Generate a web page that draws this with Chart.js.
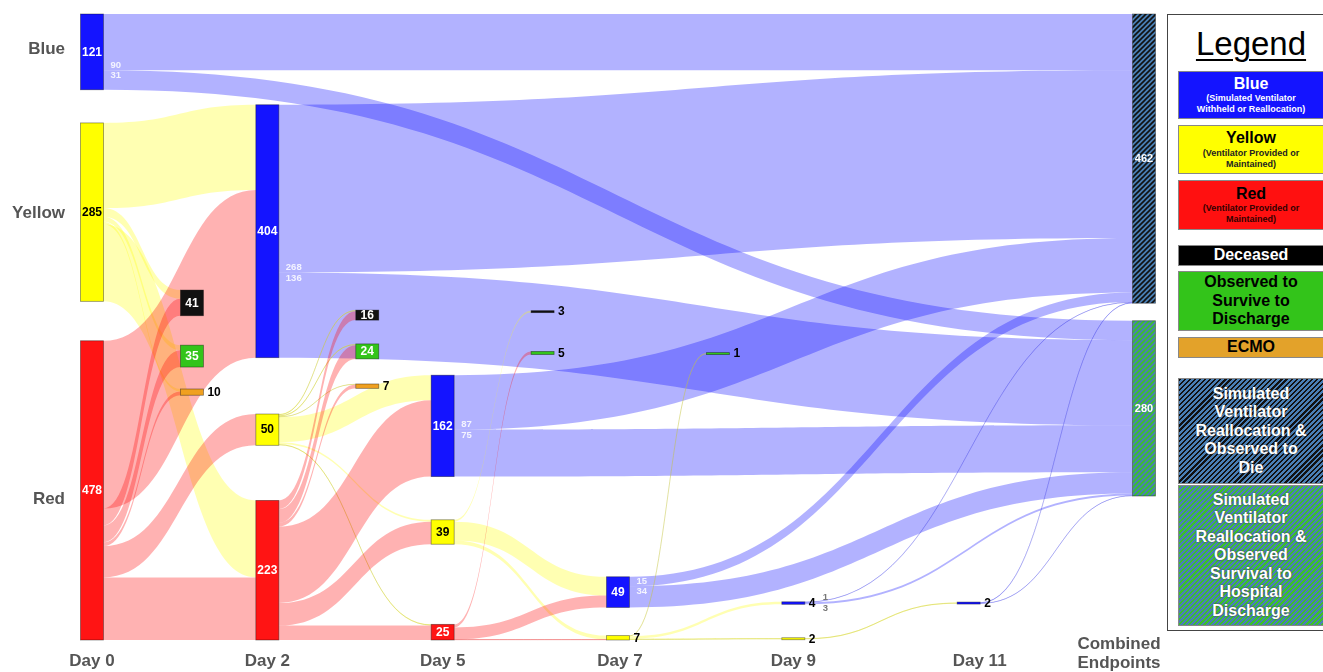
<!DOCTYPE html>
<html>
<head>
<meta charset="utf-8">
<title>Ventilator allocation flow</title>
<script src="https://cdn.jsdelivr.net/npm/chart.js@4.4.1/dist/chart.umd.min.js"></script>
<style>
  html, body { margin: 0; padding: 0; background: #fff; }
  #wrap { position: relative; width: 1323px; height: 672px; overflow: hidden; font-family: "Liberation Sans", Arial, sans-serif; }
  #wrap canvas { position: absolute; left: 0; top: 0; }
  #legend { position: absolute; left: 1167px; top: 14px; width: 175px; height: 617px; border: 1px solid #444; background: #fff; box-sizing: border-box; }
  #legend .title { position: absolute; left: 0; width: 166px; top: 10px; text-align: center; font-size: 33px; text-decoration: underline; text-decoration-thickness: 2px; text-underline-offset: 4px; color: #000; }
  #legend .item { position: absolute; left: 10px; width: 146px; box-sizing: border-box; border: 1px solid #888; display: flex; flex-direction: column; justify-content: center; align-items: center; text-align: center; font-weight: bold; font-size: 16px; line-height: 18.5px; }
  #legend .item small { font-size: 9px; line-height: 11px; display: block; }
  #legend .hatchDie { background: repeating-linear-gradient(135deg, #111 0 1.6px, #4a7fb5 1.6px 3.6px); color: #fff; text-shadow: 0 0 2px #333; }
  #legend .hatchLive { background: repeating-linear-gradient(135deg, #3cc12a 0 1.6px, #4a7fb5 1.6px 3.6px); color: #fff; text-shadow: 0 0 2px #333; }
</style>
</head>
<body>
<div id="wrap">
  <canvas id="flow" width="1323" height="672"></canvas>
  <div id="legend">
    <div class="title">Legend</div>
    <div class="item" style="top:56px;height:48px;background:#1414ff;color:#fff;">Blue<small>(Simulated Ventilator<br>Withheld or Reallocation)</small></div>
    <div class="item" style="top:110px;height:49px;background:#ffff00;color:#000;">Yellow<small style="color:#222">(Ventilator Provided or<br>Maintained)</small></div>
    <div class="item" style="top:165px;height:50px;background:#ff1010;color:#000;">Red<small style="color:#300">(Ventilator Provided or<br>Maintained)</small></div>
    <div class="item" style="top:230px;height:21px;background:#000;color:#fff;">Deceased</div>
    <div class="item" style="top:256px;height:60px;background:#33c41a;color:#000;">Observed to<br>Survive to<br>Discharge</div>
    <div class="item" style="top:322px;height:21px;background:#e3a22a;color:#000;">ECMO</div>
    <div class="item hatchDie" style="top:363px;height:106px;">Simulated<br>Ventilator<br>Reallocation &amp;<br>Observed to<br>Die</div>
    <div class="item hatchLive" style="top:470px;height:141px;">Simulated<br>Ventilator<br>Reallocation &amp;<br>Observed<br>Survival to<br>Hospital<br>Discharge</div>
  </div>
</div>
<script>
// ---- data ----
const dayLabels = ['Day 0', 'Day 2', 'Day 5', 'Day 7', 'Day 9', 'Day 11', ['Combined', 'Endpoints']];
const rowLabels = ['Blue', 'Yellow', 'Red'];
const rowNodes = ['b0', 'y0', 'r0'];

// nodes (kind = colour group, day = column index)
const nodeIds   = ['b0', 'y0', 'r0', 'd0', 's0', 'e0',
                   'b2', 'y2', 'r2', 'd2', 's2', 'e2',
                   'b5', 'y5', 'r5', 'd5', 's5',
                   'b7', 'y7', 's7',
                   'b9', 'y9',
                   'b11',
                   'endDie', 'endLive'];
const nodeKinds = ['blue', 'yellow', 'red', 'dead', 'alive', 'ecmo',
                   'blue', 'yellow', 'red', 'dead', 'alive', 'ecmo',
                   'blue', 'yellow', 'red', 'dead', 'alive',
                   'blue', 'yellow', 'alive',
                   'blue', 'yellow',
                   'blue',
                   'hatchDie', 'hatchLive'];
const nodeDay   = [0, 0, 0, 0, 0, 0,
                   1, 1, 1, 1, 1, 1,
                   2, 2, 2, 2, 2,
                   3, 3, 3,
                   4, 4,
                   5,
                   6, 6];

// flows
const linkFrom  = ['b0', 'b0',
                   'y0', 'y0', 'y0', 'y0', 'y0',
                   'r0', 'r0', 'r0', 'r0', 'r0', 'r0',
                   'b2', 'b2',
                   'y2', 'y2', 'y2', 'y2', 'y2', 'y2',
                   'r2', 'r2', 'r2', 'r2', 'r2', 'r2',
                   'b5', 'b5',
                   'y5', 'y5', 'y5',
                   'r5', 'r5', 'r5',
                   'b7', 'b7',
                   'y7', 'y7', 'y7',
                   'b9', 'b9',
                   'y9',
                   'b11', 'b11'];
const linkTo    = ['endDie', 'endLive',
                   'b2', 'd0', 's0', 'e0', 'r2',
                   'b2', 'd0', 's0', 'e0', 'y2', 'r2',
                   'endDie', 'endLive',
                   'd2', 's2', 'e2', 'b5', 'y5', 'r5',
                   'd2', 's2', 'e2', 'b5', 'y5', 'r5',
                   'endDie', 'endLive',
                   'd5', 'b7', 'y7',
                   's5', 'b7', 'y7',
                   'endDie', 'endLive',
                   's7', 'b9', 'y9',
                   'endDie', 'endLive',
                   'b11',
                   'endDie', 'endLive'];
const linkValue = [90, 31,
                   136, 14, 8, 4, 123,
                   268, 27, 27, 6, 50, 100,
                   268, 136,
                   2, 2, 1, 40, 3, 2,
                   14, 22, 6, 122, 36, 23,
                   87, 75,
                   3, 30, 6,
                   5, 19, 1,
                   15, 34,
                   1, 4, 2,
                   1, 3,
                   2,
                   1, 1];

// blue nodes that show their die / survive split next to them
const splitLabelNodes = ['b0', 'b2', 'b5', 'b7', 'b9'];

// ---- layout ----
// node tops in patient units on the y axis (0 = top of chart, 1000 = bottom)
const nodeTop = [0, 174, 522, 441, 529, 599,
                 145, 639, 777, 473, 527, 591,
                 577, 808, 975, 474, 539,
                 899, 993, 542,
                 939, 997,
                 940,
                 0, 490];
const outcomeOffset = 0.57;   // deceased / survive / ECMO sit right of their day
const nodeWidth = 23;
const dayLabelShift = [0, 0, 0, 2, 0, 11, -25];
const rowLabelShift = [-3, 1, 9];
const FONT = '"Liberation Sans", Arial, sans-serif';

const nodeFill = {
  blue: '#1414ff', yellow: '#ffff00', red: '#ff1414',
  dead: '#111111', alive: '#33c41a', ecmo: '#f0a020'
};
const linkFill = {
  blue: 'rgba(0,0,255,0.3)', yellow: 'rgba(255,255,0,0.3)', red: 'rgba(255,0,0,0.3)'
};
const linkLine = {
  blue: 'rgba(70,70,220,0.35)', yellow: 'rgba(190,190,60,0.45)', red: 'rgba(220,60,60,0.4)'
};

// ---- derived ----
const idx = {};
nodeIds.forEach((id, i) => { idx[id] = i; });
const isOutcome = k => k === 'dead' || k === 'alive' || k === 'ecmo';
const nodeCol = nodeIds.map((id, i) => nodeDay[i] + (isOutcome(nodeKinds[i]) ? outcomeOffset : 0));

const links = linkFrom.map((f, i) => ({ s: idx[f], t: idx[linkTo[i]], v: linkValue[i] }));
const inSum = nodeIds.map(() => 0), outSum = nodeIds.map(() => 0);
links.forEach(l => { outSum[l.s] += l.v; inSum[l.t] += l.v; });
const nodeValue = nodeIds.map((id, i) => Math.max(inSum[i], outSum[i]));
const nodeMid = i => nodeTop[i] + nodeValue[i] / 2;

// stack links on each node: outgoing by target position, incoming by source position
nodeIds.forEach((id, i) => {
  let off = 0;
  links.filter(l => l.s === i)
    .sort((a, b) => nodeMid(a.t) - nodeMid(b.t))
    .forEach(l => { l.sy = nodeTop[i] + off; off += l.v; });
  off = 0;
  links.filter(l => l.t === i)
    .sort((a, b) => (nodeMid(a.s) - nodeMid(b.s)) || (nodeCol[a.s] - nodeCol[b.s]))
    .forEach(l => { l.ty = nodeTop[i] + off; off += l.v; });
});

function hatch(ctx, bg, stripe) {
  const c = document.createElement('canvas');
  c.width = 5; c.height = 5;
  const g = c.getContext('2d');
  g.fillStyle = bg;
  g.fillRect(0, 0, 5, 5);
  g.strokeStyle = stripe;
  g.lineWidth = 1.6;
  g.beginPath();
  g.moveTo(-1, 6); g.lineTo(6, -1);
  g.moveTo(-1, 1); g.lineTo(1, -1);
  g.moveTo(4, 6); g.lineTo(6, 4);
  g.stroke();
  return ctx.createPattern(c, 'repeat');
}

function nodeBox(chart, i) {
  const xs = chart.scales.x, ys = chart.scales.y;
  const cx = xs.getPixelForValue(nodeCol[i]);
  let top = ys.getPixelForValue(nodeTop[i]);
  let bottom = ys.getPixelForValue(nodeTop[i] + nodeValue[i]);
  if (bottom - top < 2) {
    const m = (top + bottom) / 2;
    top = m - 1; bottom = m + 1;
  }
  return { cx, left: cx - nodeWidth / 2, right: cx + nodeWidth / 2, top, bottom, h: bottom - top };
}

const sankeyPlugin = {
  id: 'sankey',
  beforeDatasetsDraw(chart) {
    const ctx = chart.ctx, ys = chart.scales.y;
    ctx.save();
    links.forEach(l => {
      const a = nodeBox(chart, l.s), b = nodeBox(chart, l.t);
      const x0 = a.right, x1 = b.left, xm = (x0 + x1) / 2;
      const s0 = ys.getPixelForValue(l.sy), s1 = ys.getPixelForValue(l.sy + l.v);
      const t0 = ys.getPixelForValue(l.ty), t1 = ys.getPixelForValue(l.ty + l.v);
      const kind = nodeKinds[l.s];
      ctx.beginPath();
      ctx.moveTo(x0, s0);
      ctx.bezierCurveTo(xm, s0, xm, t0, x1, t0);
      ctx.lineTo(x1, t1);
      ctx.bezierCurveTo(xm, t1, xm, s1, x0, s1);
      ctx.closePath();
      ctx.fillStyle = linkFill[kind];
      ctx.fill();
      if (s1 - s0 < 1.8) {
        const sm = (s0 + s1) / 2, tm = (t0 + t1) / 2;
        ctx.beginPath();
        ctx.moveTo(x0, sm);
        ctx.bezierCurveTo(xm, sm, xm, tm, x1, tm);
        ctx.strokeStyle = linkLine[kind];
        ctx.lineWidth = 1;
        ctx.stroke();
      }
    });
    ctx.restore();
  },
  afterDatasetsDraw(chart) {
    const ctx = chart.ctx, xs = chart.scales.x, ys = chart.scales.y;
    const patterns = {
      hatchDie: hatch(ctx, '#4a7fb5', '#111'),
      hatchLive: hatch(ctx, '#4a7fb5', '#3cc12a')
    };
    ctx.save();
    nodeIds.forEach((id, i) => {
      const b = nodeBox(chart, i);
      const kind = nodeKinds[i];
      ctx.fillStyle = patterns[kind] || nodeFill[kind];
      ctx.fillRect(b.left, b.top, nodeWidth, b.h);
      ctx.strokeStyle = 'rgba(0,0,0,0.45)';
      ctx.lineWidth = 0.8;
      ctx.strokeRect(b.left, b.top, nodeWidth, b.h);

      ctx.textBaseline = 'middle';
      const mid = (b.top + b.bottom) / 2;
      if (b.h >= 8) {
        ctx.textAlign = 'center';
        ctx.font = (patterns[kind] ? 'bold 11px ' : 'bold 12px ') + FONT;
        ctx.fillStyle = kind === 'yellow' ? '#000' : '#fff';
        ctx.fillText(String(nodeValue[i]), b.cx, mid + 0.5);
      } else {
        ctx.textAlign = 'left';
        ctx.font = 'bold 12px ' + FONT;
        ctx.fillStyle = '#000';
        ctx.fillText(String(nodeValue[i]), b.right + 4, mid + 0.5);
      }
    });

    // die / survive split next to blue nodes
    splitLabelNodes.forEach(id => {
      const i = idx[id];
      const b = nodeBox(chart, i);
      const outs = links.filter(l => l.s === i).sort((p, q) => p.sy - q.sy);
      const ySplit = ys.getPixelForValue(nodeTop[i] + outs[0].v);
      const thin = b.h < 8;
      ctx.font = 'bold 9.5px ' + FONT;
      ctx.textAlign = 'left';
      ctx.fillStyle = thin ? '#777' : 'rgba(255,255,255,0.85)';
      const x = thin ? b.right + 18 : b.right + 7;
      ctx.fillText(String(outs[0].v), x, ySplit - 5);
      ctx.fillText(String(outs[1].v), x, ySplit + 5.5);
    });

    // row labels
    ctx.font = 'bold 17px ' + FONT;
    ctx.fillStyle = '#555';
    ctx.textAlign = 'right';
    rowLabels.forEach((t, k) => {
      const i = idx[rowNodes[k]];
      ctx.fillText(t, 65, ys.getPixelForValue(nodeMid(i)) + rowLabelShift[k]);
    });

    // day labels
    ctx.textAlign = 'center';
    const base = chart.chartArea.bottom;
    dayLabels.forEach((t, d) => {
      const x = xs.getPixelForValue(d) + dayLabelShift[d];
      if (Array.isArray(t)) {
        ctx.fillText(t[0], x, base + 4);
        ctx.fillText(t[1], x, base + 23);
      } else {
        ctx.fillText(t, x, base + 21);
      }
    });
    ctx.restore();
  }
};

new Chart(document.getElementById('flow'), {
  type: 'scatter',
  data: {
    datasets: [{
      data: nodeIds.map((id, i) => ({ x: nodeCol[i], y: nodeMid(i) })),
      pointRadius: 0
    }]
  },
  options: {
    responsive: false,
    animation: false,
    events: [],
    layout: { padding: { top: 14, bottom: 32, left: 0, right: 0 } },
    scales: {
      x: { type: 'linear', min: -0.5247, max: 7.021, display: false },
      y: { type: 'linear', min: 0, max: 1000, reverse: true, display: false }
    },
    plugins: { legend: { display: false }, tooltip: { enabled: false } }
  },
  plugins: [sankeyPlugin]
});
</script>
</body>
</html>
